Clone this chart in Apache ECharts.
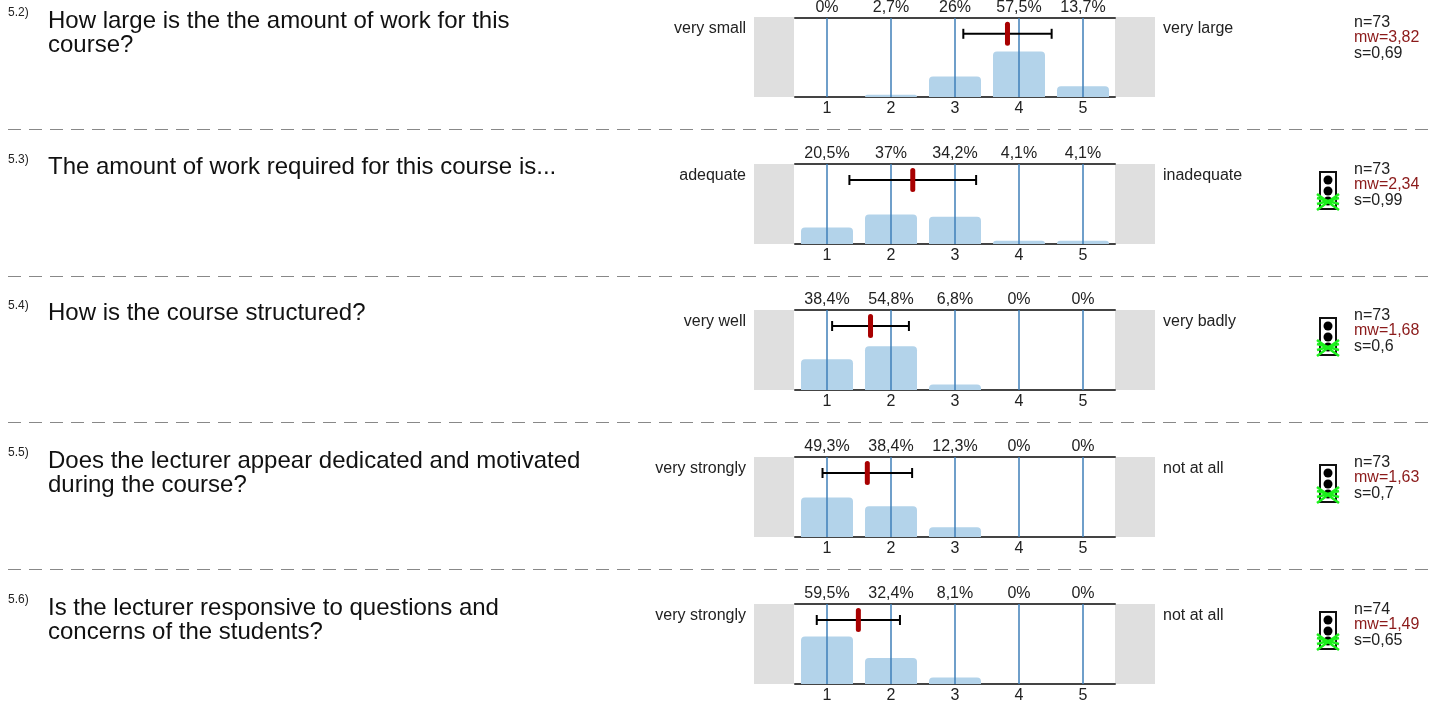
<!DOCTYPE html>
<html>
<head>
<meta charset="utf-8">
<style>
  html, body { margin: 0; padding: 0; background: #fff; }
  #chart { width: 1440px; height: 713px; }
</style>
<script src="https://cdn.jsdelivr.net/npm/echarts@6/dist/echarts.min.js"></script>
</head>
<body>
<div id="chart"></div>
<script>
// data
const scale = ['1', '2', '3', '4', '5']
const numbers = ['5.2)', '5.3)', '5.4)', '5.5)', '5.6)']
const questions = [
  'How large is the the amount of work for this\ncourse?',
  'The amount of work required for this course is...',
  'How is the course structured?',
  'Does the lecturer appear dedicated and motivated\nduring the course?',
  'Is the lecturer responsive to questions and\nconcerns of the students?'
]
const leftLabels = ['very small', 'adequate', 'very well', 'very strongly', 'very strongly']
const rightLabels = ['very large', 'inadequate', 'very badly', 'not at all', 'not at all']
const percents = [
  [0, 2.7, 26, 57.5, 13.7],
  [20.5, 37, 34.2, 4.1, 4.1],
  [38.4, 54.8, 6.8, 0, 0],
  [49.3, 38.4, 12.3, 0, 0],
  [59.5, 32.4, 8.1, 0, 0]
]
const counts = [73, 73, 73, 73, 74]
const means = [3.82, 2.34, 1.68, 1.63, 1.49]
const deviations = [0.69, 0.99, 0.6, 0.7, 0.65]
const hasLight = [false, true, true, true, true]

// layout
const rowTops = [17, 164, 310, 457, 604]
const rowHeight = 80
const separators = [129.5, 276.5, 422.5, 569.5]
const plotLeft = 795
const plotWidth = 320
const font = 'Liberation Sans, Arial, sans-serif'
const dec = (v) => String(v).replace('.', ',')

const grids = []
const xAxes = []
const yAxes = []
const series = []
const graphics = []

const addText = (x, y, text, size, color, align) => {
  graphics.push({
    type: 'text', x, y, silent: true,
    style: {
      text, fill: color, align: align || 'left', verticalAlign: 'middle',
      fontFamily: font, fontSize: size, lineHeight: size === 24 ? 24 : 15
    }
  })
}

// traffic light with the green cross over the bottom lamp
const addLight = (top) => {
  const cx = 1328
  const y0 = top + 7
  graphics.push({ type: 'rect', silent: true, shape: { x: cx - 8, y: y0 + 1, width: 16, height: 37 }, style: { fill: '#fff', stroke: '#111', lineWidth: 2 } })
  ;[9, 20, 30].forEach((dy) => {
    graphics.push({ type: 'circle', silent: true, shape: { cx, cy: y0 + dy, r: 4.5 }, style: { fill: '#000' } })
  })
  const green = { stroke: '#1cf01c', lineWidth: 2.5 }
  const cross = [[-11, 23, 11, 39], [-11, 39, 11, 23], [-11, 27, 11, 33], [-11, 33, 11, 27]]
  cross.forEach((c) => {
    graphics.push({ type: 'line', silent: true, z: 3, shape: { x1: cx + c[0], y1: y0 + c[1], x2: cx + c[2], y2: y0 + c[3] }, style: green })
  })
}

const renderSpread = (params, api) => {
  const mean = api.value(0)
  const s = api.value(1)
  const y = api.value(2)
  const a = api.coord([mean - s, y])
  const b = api.coord([mean + s, y])
  const m = api.coord([mean, y])
  const black = { stroke: '#000', lineWidth: 2 }
  return {
    type: 'group',
    children: [
      { type: 'line', shape: { x1: a[0], y1: a[1], x2: b[0], y2: b[1] }, style: black },
      { type: 'line', shape: { x1: a[0], y1: a[1] - 5, x2: a[0], y2: a[1] + 5 }, style: black },
      { type: 'line', shape: { x1: b[0], y1: b[1] - 5, x2: b[0], y2: b[1] + 5 }, style: black },
      { type: 'rect', shape: { x: m[0] - 2.5, y: m[1] - 12, width: 5, height: 24, r: 2.5 }, style: { fill: '#a80000' } }
    ]
  }
}

rowTops.forEach((top, i) => {
  grids.push({ left: plotLeft, top, width: plotWidth, height: rowHeight })

  // bottom axis with the scale, top axis with the percentages, hidden one for the mean
  xAxes.push({
    type: 'category', gridIndex: i, position: 'bottom', data: scale,
    axisLine: { lineStyle: { color: '#444', width: 2 } },
    axisTick: { show: false },
    axisLabel: { color: '#222', fontFamily: font, fontSize: 16, margin: 4 }
  })
  xAxes.push({
    type: 'category', gridIndex: i, position: 'top',
    data: percents[i].map((v) => dec(v) + '%'),
    axisLine: { lineStyle: { color: '#444', width: 2 } },
    axisTick: { show: false },
    axisLabel: { color: '#222', fontFamily: font, fontSize: 16, margin: 2, interval: 0 }
  })
  xAxes.push({ type: 'value', gridIndex: i, min: 0.5, max: 5.5, show: false })
  yAxes.push({ type: 'value', gridIndex: i, min: 0, max: 100, show: false })

  series.push({
    type: 'bar',
    xAxisIndex: i * 3,
    yAxisIndex: i,
    data: percents[i],
    barWidth: 52,
    itemStyle: { color: '#b3d3ea', borderRadius: [4, 4, 0, 0] },
    markLine: {
      silent: true, symbol: 'none', label: { show: false },
      lineStyle: { color: '#3f7fb8', width: 1.5, type: 'solid' },
      data: scale.map((name) => ({ xAxis: name }))
    }
  })
  series.push({
    type: 'custom',
    xAxisIndex: i * 3 + 2,
    yAxisIndex: i,
    z: 10,
    clip: false,
    encode: { x: 0, y: 2 },
    data: [[means[i], deviations[i], 80]],
    renderItem: renderSpread
  })

  // grey end caps
  graphics.push({ type: 'rect', silent: true, shape: { x: 754, y: top, width: 40, height: rowHeight }, style: { fill: '#dfdfdf' } })
  graphics.push({ type: 'rect', silent: true, shape: { x: 1115, y: top, width: 40, height: rowHeight }, style: { fill: '#dfdfdf' } })

  addText(8, top - 4, numbers[i], 12, '#222')
  addText(48, top + (questions[i].includes('\n') ? 16 : 3), questions[i], 24, '#111')
  addText(746, top + 12, leftLabels[i], 16, '#222', 'right')
  addText(1163, top + 12, rightLabels[i], 16, '#222')
  addText(1354, top + 6, 'n=' + counts[i], 16, '#222')
  addText(1354, top + 21, 'mw=' + dec(means[i]), 16, '#8b1a1a')
  addText(1354, top + 37, 's=' + dec(deviations[i]), 16, '#222')
  if (hasLight[i]) addLight(top)
})

separators.forEach((y) => {
  graphics.push({
    type: 'line', silent: true,
    shape: { x1: 8, y1: y, x2: 1432, y2: y },
    style: { stroke: '#888', lineWidth: 1, lineDash: [13, 8] }
  })
})

const chart = echarts.init(document.getElementById('chart'))
chart.setOption({
  animation: false,
  grid: grids,
  xAxis: xAxes,
  yAxis: yAxes,
  series,
  graphic: graphics
})
</script>
</body>
</html>
